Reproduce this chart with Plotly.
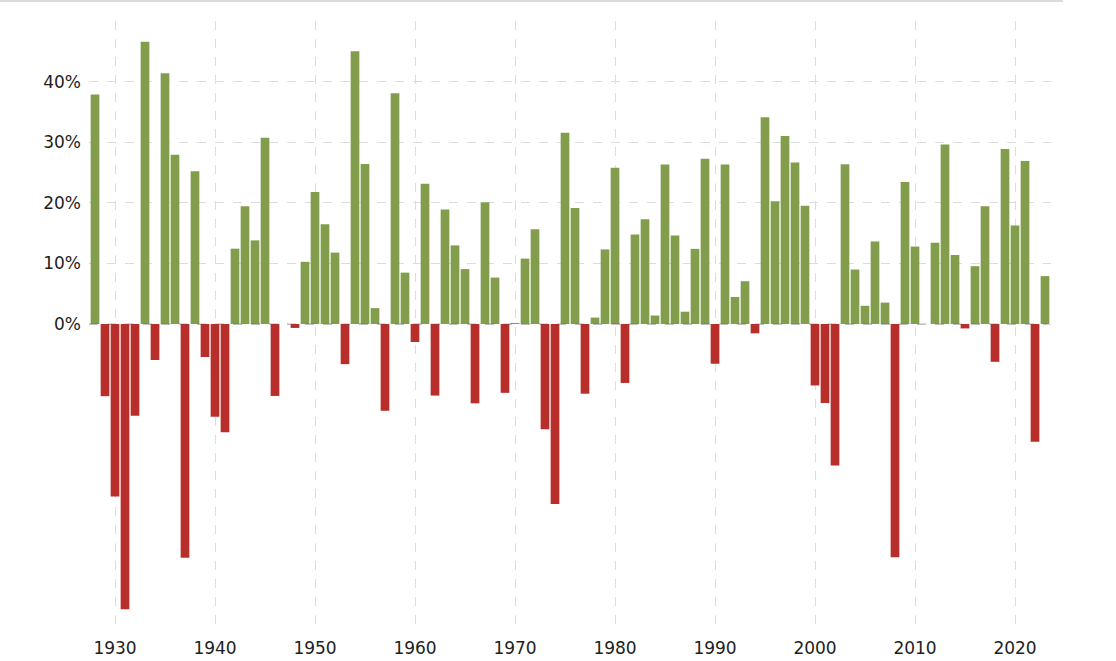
import plotly.graph_objects as go

# S&P 500 annual price returns (%), 1928-2023 (2023 year to date)
years = list(range(1928, 2024))
returns = [
    37.88, -11.91, -28.48, -47.07, -15.15, 46.59, -5.94, 41.37, 27.92, -38.59,
    25.21, -5.45, -15.29, -17.86, 12.43, 19.45, 13.80, 30.72, -11.87, 0.00,
    -0.65, 10.26, 21.78, 16.46, 11.78, -6.62, 45.02, 26.40, 2.62, -14.31,
    38.06, 8.48, -2.97, 23.13, -11.81, 18.89, 12.97, 9.06, -13.09, 20.09,
    7.66, -11.36, 0.10, 10.79, 15.63, -17.37, -29.72, 31.55, 19.15, -11.50,
    1.06, 12.31, 25.77, -9.73, 14.76, 17.27, 1.40, 26.33, 14.62, 2.03,
    12.40, 27.25, -6.56, 26.31, 4.46, 7.06, -1.54, 34.11, 20.26, 31.01,
    26.67, 19.53, -10.14, -13.04, -23.37, 26.38, 8.99, 3.00, 13.62, 3.53,
    -38.49, 23.45, 12.78, 0.00, 13.41, 29.60, 11.39, -0.73, 9.54, 19.42,
    -6.24, 28.88, 16.26, 26.89, -19.44, 7.90,
]

y_tickvals = [0, 10, 20, 30, 40, 50]
y_ticktext = ["0%", "10%", "20%", "30%", "40%", ""]
x_tickvals = list(range(1930, 2030, 10))

GREEN = "#829e4c"
RED = "#b82e2b"
colors = [GREEN if r >= 0 else RED for r in returns]

fig = go.Figure()

fig.add_trace(go.Bar(
    x=years, y=returns,
    marker=dict(color=colors, line=dict(width=0)),
    hovertemplate="%{x}: %{y:.2f}%<extra></extra>",
    showlegend=False,
))

# dashed zero line drawn over the bars
fig.add_shape(type="line", xref="paper", yref="y", x0=0, x1=0.996, y0=0, y1=0,
              line=dict(color="rgba(90,90,90,0.45)", width=1, dash="dash"),
              layer="above")

# thin page border at the top
fig.add_shape(type="line", xref="paper", yref="paper", x0=-0.0925, x1=1.0125,
              y0=1.033, y1=1.033, line=dict(color="#dcdcdc", width=2))

fig.update_layout(
    width=1116, height=661,
    margin=dict(l=89, r=65, t=21, b=34),
    plot_bgcolor="white", paper_bgcolor="white",
    bargap=0.13,
    font=dict(family="DejaVu Sans", size=17, color="#1e1e1e"),
    xaxis=dict(
        range=[1927.4, 2023.6],
        tickvals=x_tickvals,
        showgrid=True, gridcolor="#dcdcdc", griddash="dash", gridwidth=1,
        zeroline=False, showline=False, ticks="",
        ticklabelstandoff=9, automargin=False,
    ),
    yaxis=dict(
        range=[-50, 50],
        tickvals=y_tickvals, ticktext=y_ticktext,
        showgrid=True, gridcolor="#dcdcdc", griddash="dash", gridwidth=1,
        zeroline=False, showline=False, ticks="",
        ticklabelstandoff=7, automargin=False,
    ),
)

# page body has an 8px default margin; drop it so the figure sits at 0,0
fig.write_html("out.html", config={"displayModeBar": False},
               post_script="document.body.style.margin='0px';")
